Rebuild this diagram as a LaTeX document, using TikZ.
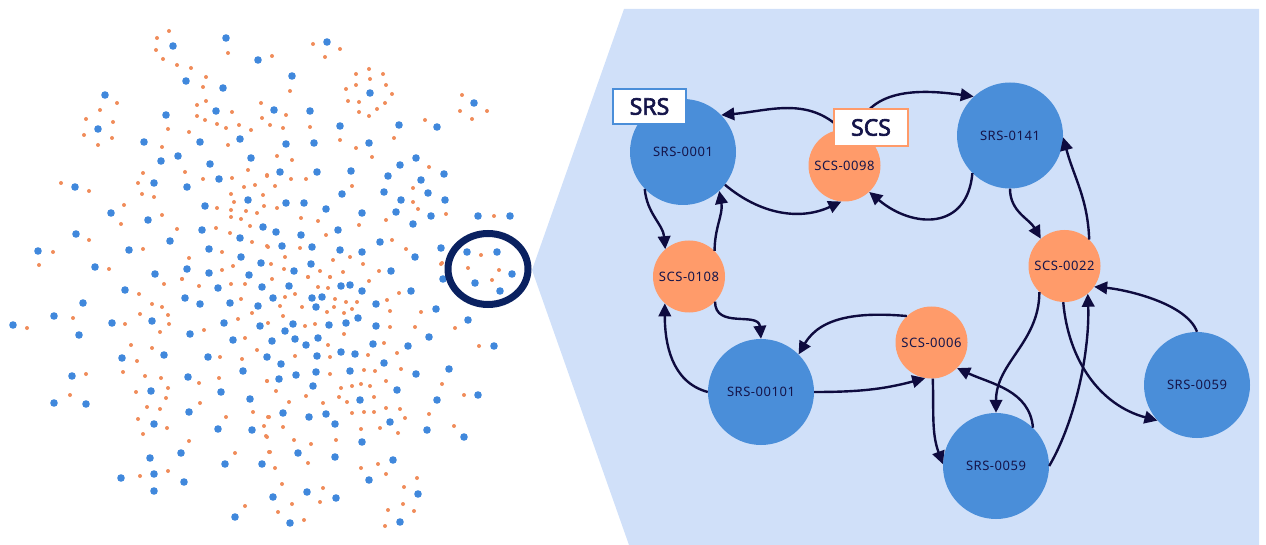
\documentclass[tikz,border=0pt]{standalone}
\usepackage{fontspec}
\setmainfont{Noto Sans}
\newfontfamily\nodefamily[LetterSpace=4]{Noto Sans}
\newfontfamily\tagfamily[FakeBold=2.6]{Noto Sans}
\usetikzlibrary{arrows.meta}
\definecolor{panel}{HTML}{D0E0F9}
\definecolor{srsblue}{HTML}{4A8ED9}
\definecolor{scsorange}{HTML}{FF9B6A}
\definecolor{ink}{HTML}{15154A}
\definecolor{edgeink}{HTML}{0E0B3F}
\definecolor{ringnavy}{HTML}{0A2160}
\definecolor{dotblue}{HTML}{4088DC}
\definecolor{dotorange}{HTML}{F08C5A}
\tikzset{
  srs/.style={circle, fill=srsblue, minimum size=106pt, inner sep=0pt,
    font=\nodefamily\fontsize{13}{15}\selectfont, text=ink},
  scs/.style={circle, fill=scsorange, minimum size=72pt, inner sep=0pt,
    font=\nodefamily\fontsize{13}{15}\selectfont, text=ink},
  link/.style={draw=edgeink, line width=2.4pt,
    -{Triangle[length=13pt,width=12.5pt]}},
  tagbox/.style={rectangle, fill=white, line width=2.5pt, inner sep=0pt,
    font=\tagfamily\fontsize{23}{26}\selectfont, text=ink},
}
\begin{document}
\begin{tikzpicture}[x=1pt,y=-1pt]
\useasboundingbox (0,0) rectangle (1266,545);

% ---- network overview: small scs dots ----
\foreach \x/\y in {169/31,157/38,156/50,163/59,228/53,177/65,191/68,206/77,203/87,206/101,197/105,197/116,205/120,217/124,232/112,226/128,239/125,251/130,261/103,262/118,117/103,100/110,86/119,113/122,84/135,112/138,98/145,168/129,189/132,162/147,228/145,248/170,267/175,185/172,143/173,138/183,142/194,154/197,203/179,232/178,61/183,89/191,231/194,244/187,255/185,263/195,234/202,264/206,231/210,246/211,257/213,231/217,241/219,217/208,124/205,121/224,162/215,177/229,216/228,250/226,230/233,252/242,267/246,89/240,143/249,222/252,53/252,39/265,109/269,189/258,233/266,222/270,182/279,
313/44,340/49,325/57,272/56,290/91,356/74,369/69,383/74,370/79,356/85,386/85,346/89,392/94,348/101,359/102,385/103,377/109,359/112,369/116,462/95,460/111,472/119,487/111,425/120,286/115,270/125,283/128,310/127,340/140,394/138,356/148,372/157,277/156,292/160,267/176,291/179,306/179,275/186,352/186,429/167,413/188,413/202,418/209,446/214,386/220,277/208,301/218,318/221,359/225,326/235,494/216,392/240,268/247,300/248,406/249,333/260,350/257,363/264,285/257,271/264,284/269,320/271,343/272,379/271,308/277,330/277,481/255,468/268,499/270,442/263,441/264,492/280,
27/328,73/318,139/294,125/324,152/304,162/307,140/314,168/315,169/324,160/332,164/284,182/279,199/286,231/284,245/284,241/299,252/313,238/319,204/330,245/338,131/345,137/361,123/372,152/348,220/357,242/359,257/350,86/374,70/395,145/376,161/378,168/388,136/392,166/398,147/407,160/409,199/383,219/378,200/403,267/381,253/412,268/417,264/426,266/436,226/417,138/419,167/428,143/434,189/441,235/453,269/452,168/471,140/476,245/506,
272/279,308/277,330/277,369/281,318/287,328/288,399/293,285/297,295/294,335/299,346/302,357/302,387/300,280/306,302/307,334/307,352/309,390/311,421/312,327/312,344/313,283/316,268/323,305/326,315/324,344/334,390/327,415/327,455/328,328/345,330/357,295/356,368/355,384/343,397/353,479/346,364/370,375/371,401/369,330/374,267/381,276/391,289/402,306/396,323/403,341/388,352/386,361/384,370/386,374/397,339/397,347/402,352/413,364/412,374/412,386/408,400/409,405/418,380/428,398/433,361/429,386/381,442/384,429/414,464/395,454/426,269/417,283/427,267/437,294/440,311/444,336/440,308/463,270/452,275/468,361/468,378/464,386/474,417/478,404/487,403/504,414/511,388/510,385/526,282/484,323/488,292/504,320/502,278/512,304/520}
  \fill[dotorange] (\x,\y) circle[radius=2pt];

% ---- network overview: srs dots ----
\foreach \x/\y in {173/46,226/38,258/60,186/81,223/88,105/95,216/111,166/115,98/129,240/139,144/142,200/142,178/156,161/161,251/158,210/164,154/183,219/179,75/187,187/187,248/200,205/206,111/213,148/220,263/227,202/230,76/234,240/238,170/241,38/251,129/250,209/249,241/257,95/267,261/263,155/274,187/269,209/273,249/275,
327/42,292/76,370/93,474/103,274/110,310/111,340/126,399/125,437/127,286/144,314/143,369/143,416/158,400/165,280/172,317/172,351/171,388/176,421/180,444/174,342/194,384/192,428/193,286/203,304/203,401/200,445/200,326/209,362/213,396/212,431/216,413/224,478/216,510/216,276/232,301/235,338/230,282/246,312/247,340/250,362/252,380/242,415/257,441/248,467/252,497/252,512/274,475/283,500/291,443/279,311/264,294/271,391/271,
83/303,54/316,13/325,79/335,125/290,112/323,152/321,185/298,200/304,218/288,230/303,262/287,258/306,224/323,260/326,190/334,233/340,122/358,164/355,208/357,267/357,243/371,72/376,188/377,151/391,221/392,54/403,86/404,250/399,189/412,154/424,218/429,252/430,181/453,150/458,154/474,121/478,184/482,154/491,225/464,262/464,235/517,
289/286,341/286,350/285,362/291,411/291,273/298,312/298,322/297,316/307,376/304,436/309,468/320,358/318,346/323,293/324,329/325,376/326,285/331,318/338,272/341,295/339,306/345,373/344,429/337,408/346,494/346,341/352,355/354,317/356,281/364,384/363,449/369,350/371,416/374,316/372,296/375,279/379,313/386,397/390,478/395,437/400,360/400,283/413,309/417,326/414,390/422,335/424,427/430,464/437,362/442,298/453,335/457,393/460,369/480,307/492,336/498,273/497,418/494,290/523,400/522}
  \fill[dotblue] (\x,\y) circle[radius=3.8pt];

% ---- highlighted cluster ring ----
\draw[ringnavy, line width=7pt] (488,269) ellipse [x radius=40pt, y radius=35.5pt];

% ---- zoomed cluster panel ----
\fill[panel] (624,9) -- (1259,9) -- (1259,545) -- (629,545) -- (532,270) -- cycle;

\node[srs] (srsA) at (683,152)   {SRS-0001};
\node[scs] (scsA) at (844.5,165.5) {SCS-0098};
\node[srs] (srsB) at (1010,135.5) {SRS-0141};
\node[scs] (scsB) at (1064.5,266) {SCS-0022};
\node[scs] (scsC) at (689,276.5) {SCS-0108};
\node[srs] (srsC) at (761,392)   {SRS-00101};
\node[scs] (scsD) at (931.5,342.5) {SCS-0006};
\node[srs] (srsD) at (996,466)   {SRS-0059};
\node[srs] (srsE) at (1197,385)  {SRS-0059};

% ---- links ----
\draw[link] (scsA.95) to[out=135,in=5] (srsA.44);
\draw[link] (scsA.70) to[out=75,in=172] (srsB.133);
\draw[link] (srsB.225) to[out=-95,in=-40,looseness=1.4] (scsA.-47);
\draw[link] (srsA.-38) to[out=-40,in=205] (scsA.-95);
\draw[link] (srsA.-136) to[out=-85,in=95] (scsC.131);
\draw[link] (scsC.45) to[out=90,in=-80] (srsA.-47);
\draw[link] (scsC.-44) to[out=-90,in=95,looseness=1.2] (srsC.90);
\draw[link] (srsC.180) to[out=165,in=-90] (scsC.-132);
\draw[link] (scsD.133) to[out=175,in=60] (srsC.45);
\draw[link] (srsC.0) to[out=0,in=195] (scsD.-100);
\draw[link] (scsD.-88) to[out=-88,in=110] (srsD.178);
\draw[link] (srsD.46) to[out=95,in=-25] (scsD.-45);
\draw[link] (scsB.-134) to[out=-90,in=90] (srsD.90);
\draw[link] (srsD.0) to[out=60,in=-88,looseness=0.8] (scsB.-50);
\draw[link] (scsB.-92) to[out=-85,in=165] (srsE.-138);
\draw[link] (srsE.90) to[out=110,in=-5,looseness=0.7] (scsB.-35);
\draw[link] (scsB.47) to[out=92,in=-75] (srsB.-2);
\draw[link] (srsB.-90) to[out=-90,in=120] (scsB.131);

% ---- legend tags ----
\node[tagbox, draw=srsblue, minimum width=73pt, minimum height=35pt] (srstag) at (649.5,106.5) {SRS};
\node[tagbox, draw=scsorange, minimum width=74pt, minimum height=37pt] (scstag) at (871,127.5) {SCS};
\end{tikzpicture}
\end{document}
